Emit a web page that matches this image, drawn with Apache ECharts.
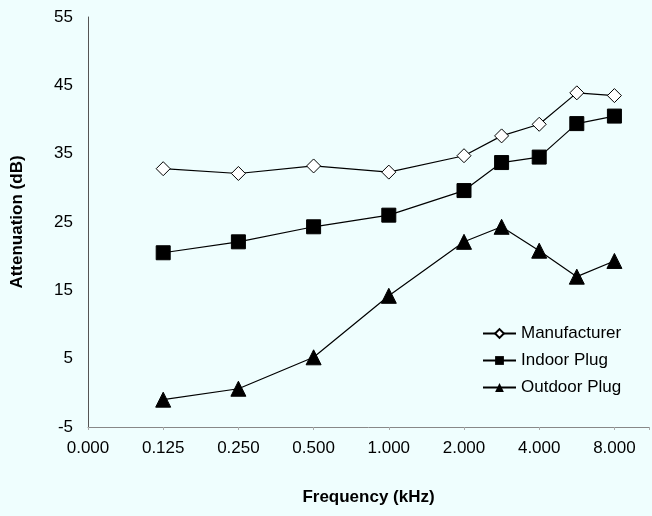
<!DOCTYPE html>
<html>
<head>
<meta charset="utf-8">
<script src="https://cdn.jsdelivr.net/npm/echarts@6/dist/echarts.min.js"></script>
<style>
html,body{margin:0;padding:0;background:#EFFEFE;}
#chart{width:652px;height:516px;}
</style>
</head>
<body>
<div id="chart"></div>
<script>
// Frequencies (kHz) and their positions along the drawn x axis
var frequencies = [0.125, 0.25, 0.5, 1, 2, 3, 4, 6, 8];
var xPositions = [1, 2, 3, 4, 5, 5.5, 6, 6.5, 7];
var xTickLabels = ['0.000', '0.125', '0.250', '0.500', '1.000', '2.000', '4.000', '8.000'];

var manufacturer = [32.8, 32.1, 33.2, 32.3, 34.7, 37.6, 39.3, 43.9, 43.5];
var indoorPlug = [20.5, 22.1, 24.3, 26.0, 29.6, 33.7, 34.5, 39.4, 40.5];
var outdoorPlug = [-1.0, 0.6, 5.2, 14.2, 22.1, 24.3, 20.8, 17.0, 19.3];

function pairs(vals) {
  return vals.map(function (v, i) { return [xPositions[i], v]; });
}

var font = 'Liberation Sans, Arial, sans-serif';
var chart = echarts.init(document.getElementById('chart'));
chart.setOption({
  backgroundColor: '#EFFEFE',
  animation: false,
  grid: { left: 88, right: 0, top: 17, bottom: 89 },
  legend: {
    orient: 'vertical',
    left: 477,
    top: 320,
    itemWidth: 33,
    itemHeight: 11,
    itemGap: 10,
    textStyle: { fontFamily: font, fontSize: 17, color: '#000' },
    data: ['Manufacturer', 'Indoor Plug', 'Outdoor Plug']
  },
  xAxis: {
    type: 'value',
    min: 0,
    max: 7.46,
    interval: 1,
    name: 'Frequency (kHz)',
    nameLocation: 'middle',
    nameGap: 62,
    nameTextStyle: { fontFamily: font, fontSize: 17, fontWeight: 'bold', color: '#000' },
    axisLine: { onZero: false, lineStyle: { color: '#888', width: 1 } },
    axisTick: { show: true, length: 3, lineStyle: { color: '#aaa' } },
    splitLine: { show: false },
    axisLabel: {
      fontFamily: font, fontSize: 17, color: '#000', margin: 13,
      formatter: function (v) { return Number.isInteger(v) ? xTickLabels[v] : ''; }
    }
  },
  yAxis: {
    type: 'value',
    min: -5,
    max: 55,
    interval: 10,
    name: 'Attenuation (dB)',
    nameLocation: 'middle',
    nameGap: 62,
    nameTextStyle: { fontFamily: font, fontSize: 17, fontWeight: 'bold', color: '#000' },
    axisLine: { show: true, lineStyle: { color: '#555', width: 1 } },
    axisTick: { show: false },
    splitLine: { show: false },
    axisLabel: { fontFamily: font, fontSize: 17, color: '#000', margin: 15 }
  },
  series: [
    {
      name: 'Manufacturer', type: 'line', data: pairs(manufacturer),
      symbol: 'diamond', symbolSize: 14,
      lineStyle: { color: '#000', width: 1.2 },
      itemStyle: { color: '#fff', borderColor: '#000', borderWidth: 1 }
    },
    {
      name: 'Indoor Plug', type: 'line', data: pairs(indoorPlug),
      symbol: 'rect', symbolSize: 14,
      lineStyle: { color: '#000', width: 1.2 },
      itemStyle: { color: '#000', borderColor: '#000' }
    },
    {
      name: 'Outdoor Plug', type: 'line', data: pairs(outdoorPlug),
      symbol: 'triangle', symbolSize: 15,
      lineStyle: { color: '#000', width: 1.2 },
      itemStyle: { color: '#000', borderColor: '#000' }
    }
  ]
});
</script>
</body>
</html>
